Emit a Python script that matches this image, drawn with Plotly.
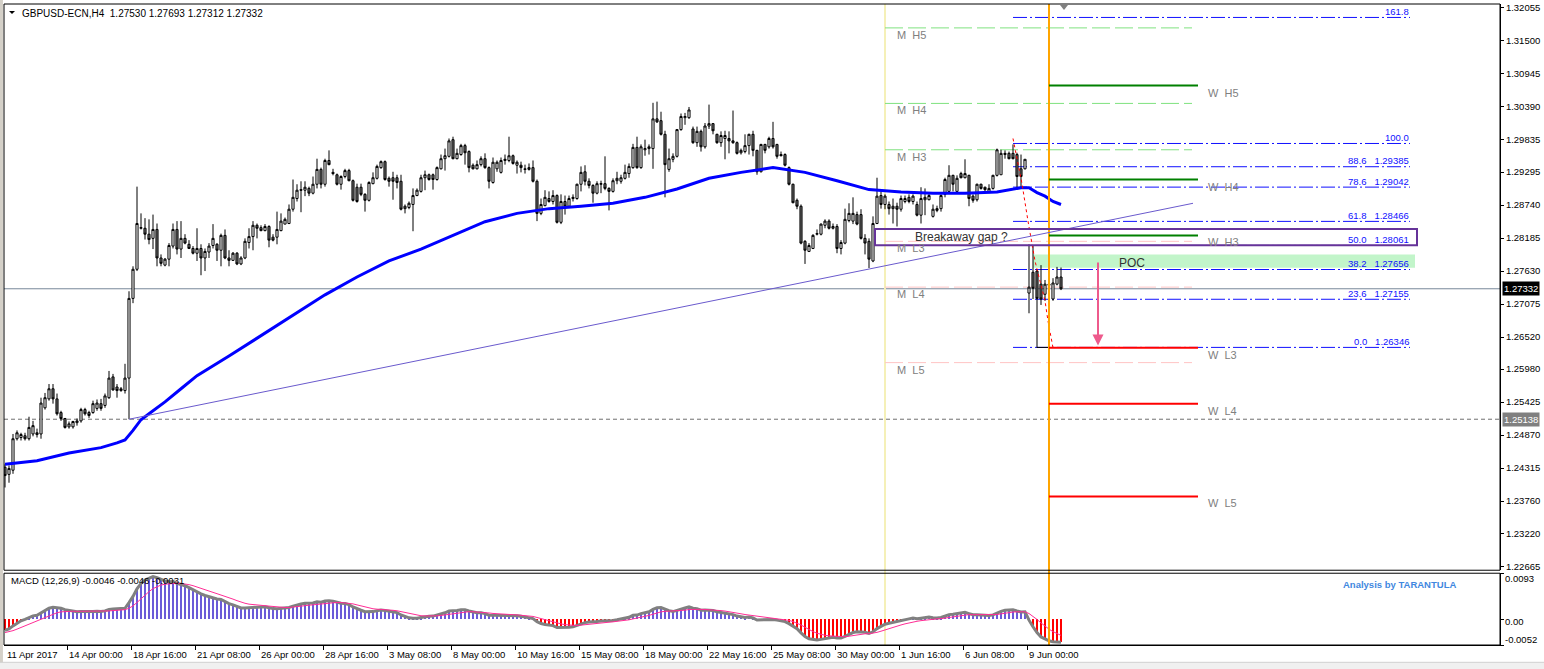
import numpy as np
import plotly.graph_objects as go

# ---------------- DATA ----------------
OPEN = [1.2433,1.2421,1.2428,1.2481,1.2483,1.2486,1.2481,1.2489,1.2491,1.2489,
        1.2533,1.2548,1.2565,1.2548,1.2525,1.2515,1.2501,1.2501,1.2508,1.2511,
        1.2530,1.2525,1.2525,1.2532,1.2540,1.2537,1.2550,1.2585,1.2568,1.2562,
        1.2562,1.2583,1.2717,1.2766,1.2835,1.2835,1.2825,1.2818,1.2833,1.2785,
        1.2773,1.2783,1.2805,1.2833,1.2800,1.2818,1.2808,1.2801,1.2793,1.2801,
        1.2785,1.2795,1.2806,1.2808,1.2798,1.2823,1.2785,1.2781,1.2793,1.2775,
        1.2785,1.2811,1.2821,1.2840,1.2836,1.2831,1.2838,1.2820,1.2820,1.2831,
        1.2842,1.2843,1.2867,1.2885,1.2900,1.2899,1.2902,1.2894,1.2909,1.2934,
        1.2909,1.2949,1.2929,1.2925,1.2909,1.2922,1.2932,1.2915,1.2904,1.2904,
        1.2892,1.2882,1.2910,1.2919,1.2937,1.2947,1.2919,1.2920,1.2920,1.2914,
        1.2868,1.2870,1.2875,1.2890,1.2897,1.2920,1.2925,1.2925,1.2917,1.2935,
        1.2952,1.2956,1.2984,1.2952,1.2959,1.2974,1.2964,1.2941,1.2935,1.2942,
        1.2952,1.2937,1.2912,1.2935,1.2929,1.2949,1.2949,1.2957,1.2941,1.2941,
        1.2935,1.2934,1.2937,1.2914,1.2860,1.2873,1.2885,1.2880,1.2890,1.2845,
        1.2880,1.2872,1.2885,1.2885,1.2909,1.2930,1.2914,1.2907,1.2894,1.2909,
        1.2910,1.2902,1.2897,1.2915,1.2914,1.2919,1.2927,1.2937,1.2971,1.2937,
        1.2967,1.2969,1.2969,1.3019,1.3016,1.2993,1.2934,1.2951,1.2956,1.3001,
        1.3021,1.3021,1.3002,1.2979,1.2998,1.2972,1.3007,1.3011,1.2993,1.2979,
        1.2986,1.2986,1.2982,1.2979,1.2962,1.2964,1.2974,1.2993,1.2966,1.2930,
        1.2976,1.2972,1.2986,1.2976,1.2959,1.2959,1.2937,1.2909,1.2882,1.2872,
        1.2813,1.2796,1.2801,1.2825,1.2825,1.2840,1.2847,1.2835,1.2838,1.2801,
        1.2810,1.2848,1.2847,1.2858,1.2858,1.2818,1.2813,1.2780,1.2843,1.2890,
        1.2875,1.2875,1.2868,1.2872,1.2867,1.2880,1.2887,1.2880,1.2875,1.2857,
        1.2883,1.2883,1.2855,1.2865,1.2868,1.2892,1.2897,1.2924,1.2897,1.2927,
        1.2920,1.2924,1.2889,1.2883,1.2909,1.2904,1.2897,1.2902,1.2924,1.2925,
        1.2959,1.2961,1.2961,1.2959,1.2935,1.2935,1.2726,1.2761,1.2763,1.2741,
        1.2724,1.2739,1.2716,1.2741,1.2753]
HIGH = [1.2438,1.2436,1.2489,1.2495,1.2491,1.2491,1.2518,1.2511,1.2498,1.2550,
        1.2558,1.2573,1.2573,1.2557,1.2528,1.2516,1.2510,1.2511,1.2515,1.2533,
        1.2533,1.2528,1.2545,1.2547,1.2548,1.2557,1.2595,1.2590,1.2573,1.2568,
        1.2607,1.2729,1.2771,1.2905,1.2860,1.2852,1.2850,1.2858,1.2843,1.2791,
        1.2785,1.2810,1.2843,1.2847,1.2847,1.2825,1.2815,1.2805,1.2835,1.2808,
        1.2801,1.2810,1.2842,1.2810,1.2826,1.2833,1.2798,1.2795,1.2795,1.2788,
        1.2818,1.2835,1.2847,1.2843,1.2840,1.2842,1.2840,1.2825,1.2863,1.2860,
        1.2853,1.2875,1.2917,1.2909,1.2914,1.2914,1.2905,1.2922,1.2952,1.2937,
        1.2952,1.2966,1.2935,1.2927,1.2924,1.2935,1.2935,1.2917,1.2910,1.2910,
        1.2894,1.2914,1.2929,1.2942,1.2949,1.2949,1.2922,1.2930,1.2925,1.2925,
        1.2875,1.2880,1.2902,1.2902,1.2925,1.2932,1.2927,1.2927,1.2939,1.2959,
        1.2969,1.2986,1.2989,1.2969,1.2977,1.2977,1.2966,1.2944,1.2949,1.2956,
        1.2961,1.2939,1.2954,1.2949,1.2954,1.2959,1.2989,1.2959,1.2949,1.2947,
        1.2942,1.2944,1.2949,1.2917,1.2885,1.2899,1.2897,1.2899,1.2892,1.2892,
        1.2890,1.2890,1.2892,1.2910,1.2939,1.2941,1.2919,1.2909,1.2914,1.2915,
        1.2956,1.2904,1.2919,1.2930,1.2925,1.2942,1.2944,1.2977,1.2989,1.2976,
        1.2984,1.2976,1.3046,1.3048,1.3031,1.2999,1.2969,1.2961,1.3002,1.3028,
        1.3029,1.3039,1.3006,1.3006,1.3001,1.3012,1.3043,1.3012,1.2994,1.2998,
        1.2999,1.2998,1.3033,1.2981,1.2969,1.2993,1.2994,1.2999,1.2967,1.2977,
        1.2977,1.2989,1.3014,1.2977,1.2964,1.2961,1.2939,1.2910,1.2885,1.2875,
        1.2815,1.2810,1.2825,1.2833,1.2843,1.2850,1.2850,1.2843,1.2842,1.2815,
        1.2868,1.2877,1.2887,1.2863,1.2867,1.2825,1.2818,1.2855,1.2920,1.2897,
        1.2892,1.2880,1.2885,1.2878,1.2890,1.2890,1.2892,1.2892,1.2880,1.2904,
        1.2902,1.2894,1.2875,1.2873,1.2892,1.2920,1.2941,1.2925,1.2924,1.2930,
        1.2951,1.2925,1.2892,1.2910,1.2910,1.2905,1.2909,1.2925,1.2969,1.2967,
        1.2966,1.2964,1.2976,1.2962,1.2959,1.2951,1.2808,1.2806,1.2766,1.2773,
        1.2748,1.2749,1.2751,1.2770,1.2769]
LOW = [1.2399,1.2407,1.2422,1.2478,1.2478,1.2478,1.2478,1.2485,1.2483,1.2481,
       1.2530,1.2545,1.2540,1.2520,1.2511,1.2498,1.2498,1.2498,1.2503,1.2508,
       1.2520,1.2516,1.2523,1.2528,1.2528,1.2533,1.2548,1.2562,1.2550,1.2560,
       1.2557,1.25138,1.2709,1.2763,1.2833,1.2816,1.2808,1.2800,1.2771,1.2771,
       1.2771,1.2771,1.2801,1.2791,1.2785,1.2808,1.2800,1.2791,1.2780,1.2756,
       1.2763,1.2785,1.2801,1.2780,1.2771,1.2783,1.2771,1.2780,1.2773,1.2773,
       1.2783,1.2801,1.2798,1.2818,1.2830,1.2830,1.2803,1.2813,1.2808,1.2830,
       1.2842,1.2842,1.2863,1.2880,1.2862,1.2889,1.2889,1.2892,1.2902,1.2902,
       1.2905,1.2941,1.2924,1.2907,1.2900,1.2919,1.2914,1.2880,1.2878,1.2889,
       1.2863,1.2880,1.2909,1.2917,1.2935,1.2915,1.2905,1.2883,1.2902,1.2865,
       1.2860,1.2867,1.2830,1.2889,1.2895,1.2899,1.2915,1.2900,1.2915,1.2934,
       1.2932,1.2954,1.2951,1.2951,1.2957,1.2942,1.2929,1.2934,1.2934,1.2939,
       1.2935,1.2902,1.2910,1.2930,1.2927,1.2942,1.2946,1.2942,1.2927,1.2929,
       1.2927,1.2932,1.2912,1.2847,1.2857,1.2872,1.2878,1.2875,1.2843,1.2842,
       1.2858,1.2870,1.2880,1.2883,1.2897,1.2907,1.2902,1.2878,1.2892,1.2894,
       1.2899,1.2865,1.2895,1.2909,1.2910,1.2917,1.2920,1.2935,1.2935,1.2935,
       1.2957,1.2959,1.2935,1.3012,1.2991,1.2887,1.2930,1.2946,1.2954,1.2999,
       1.3009,1.3019,1.2977,1.2972,1.2964,1.2969,1.3002,1.2993,1.2977,1.2972,
       1.2951,1.2961,1.2977,1.2959,1.2959,1.2961,1.2959,1.2956,1.2925,1.2929,
       1.2961,1.2969,1.2969,1.2952,1.2956,1.2939,1.2907,1.2877,1.2867,1.2808,
       1.2775,1.2795,1.2800,1.2823,1.2823,1.2835,1.2833,1.2833,1.2793,1.2791,
       1.2808,1.2845,1.2842,1.2840,1.2816,1.2791,1.2768,1.2778,1.2842,1.2868,
       1.2867,1.2858,1.2843,1.2838,1.2863,1.2877,1.2877,1.2875,1.2855,1.2843,
       1.2857,1.2882,1.2853,1.2862,1.2863,1.2887,1.2895,1.2897,1.2895,1.2919,
       1.2919,1.2872,1.2878,1.2880,1.2900,1.2895,1.2894,1.2900,1.2922,1.2925,
       1.2952,1.2951,1.2951,1.2902,1.2902,1.2934,1.2692,1.2716,1.2634,1.2706,
       1.2713,1.2721,1.2713,1.2739,1.2731]
CLOSE = [1.2419,1.2431,1.2481,1.2491,1.2488,1.2481,1.2500,1.2503,1.2488,1.2541,
         1.2550,1.2565,1.2548,1.2523,1.2515,1.2500,1.2506,1.2510,1.2511,1.2530,
         1.2523,1.2520,1.2540,1.2541,1.2532,1.2553,1.2583,1.2563,1.2562,1.2565,
         1.2583,1.2717,1.2766,1.2843,1.2836,1.2825,1.2816,1.2833,1.2785,1.2776,
         1.2783,1.2806,1.2833,1.2800,1.2818,1.2810,1.2801,1.2793,1.2801,1.2785,
         1.2796,1.2805,1.2818,1.2798,1.2823,1.2785,1.2781,1.2793,1.2775,1.2785,
         1.2813,1.2821,1.2840,1.2835,1.2831,1.2838,1.2815,1.2815,1.2833,1.2847,
         1.2850,1.2867,1.2887,1.2899,1.2899,1.2904,1.2894,1.2909,1.2934,1.2909,
         1.2949,1.2942,1.2927,1.2909,1.2922,1.2932,1.2915,1.2882,1.2880,1.2892,
         1.2882,1.2912,1.2920,1.2939,1.2947,1.2917,1.2914,1.2914,1.2912,1.2867,
         1.2872,1.2877,1.2890,1.2899,1.2920,1.2925,1.2917,1.2917,1.2937,1.2952,
         1.2957,1.2982,1.2952,1.2961,1.2974,1.2962,1.2937,1.2935,1.2942,1.2952,
         1.2937,1.2914,1.2946,1.2946,1.2949,1.2951,1.2957,1.2944,1.2946,1.2937,
         1.2934,1.2937,1.2914,1.2860,1.2875,1.2887,1.2880,1.2890,1.2845,1.2880,
         1.2872,1.2885,1.2887,1.2909,1.2929,1.2914,1.2907,1.2894,1.2910,1.2910,
         1.2902,1.2897,1.2915,1.2919,1.2920,1.2929,1.2939,1.2971,1.2937,1.2972,
         1.2969,1.2972,1.3019,1.3014,1.2993,1.2942,1.2952,1.2956,1.3001,1.3023,
         1.3023,1.3034,1.2979,1.2998,1.2972,1.3007,1.3011,1.2999,1.2979,1.2991,
         1.2991,1.2982,1.2979,1.2961,1.2966,1.2974,1.2993,1.2966,1.2930,1.2976,
         1.2966,1.2986,1.2972,1.2956,1.2957,1.2941,1.2909,1.2878,1.2872,1.2810,
         1.2798,1.2806,1.2823,1.2826,1.2842,1.2847,1.2835,1.2838,1.2801,1.2811,
         1.2850,1.2860,1.2860,1.2842,1.2818,1.2810,1.2783,1.2843,1.2889,1.2875,
         1.2889,1.2868,1.2872,1.2867,1.2885,1.2885,1.2880,1.2889,1.2857,1.2885,
         1.2887,1.2890,1.2867,1.2868,1.2890,1.2917,1.2924,1.2909,1.2919,1.2920,
         1.2927,1.2885,1.2882,1.2909,1.2902,1.2900,1.2902,1.2924,1.2967,1.2961,
         1.2961,1.2952,1.2952,1.2922,1.2922,1.2951,1.2736,1.2734,1.2717,1.2716,
         1.2741,1.2741,1.2743,1.2753,1.27332]
BARS = list(range(len(CLOSE)))

# moving average (blue) read at these bars
MA_BARS = [0, 8, 16, 20, 24, 28, 30, 32, 34, 36, 40, 44, 48, 56, 64, 72, 80, 88, 96,
           104, 112, 120, 128, 136, 144, 152, 160, 168, 176, 184, 192, 200, 208, 216,
           224, 232, 240, 248, 254, 256, 258, 260, 262, 264]
MA_VALUES = [1.2438, 1.2444, 1.2457, 1.2461, 1.2466, 1.2474, 1.2479, 1.2495, 1.2513,
             1.2523, 1.2543, 1.2565, 1.2587, 1.2620, 1.2654, 1.2689, 1.2723, 1.2753,
             1.2780, 1.2800, 1.2823, 1.2846, 1.2860, 1.2868, 1.2872, 1.2877, 1.2887,
             1.2901, 1.2919, 1.2929, 1.2937, 1.2929, 1.2915, 1.2900, 1.2896, 1.2894,
             1.2894, 1.2896, 1.2903, 1.2903, 1.2895, 1.2889, 1.2880, 1.2875]

# MACD state at the first visible bar
MACD_START = -0.0024
SIGNAL_START = -0.0028

PRICE_TICKS = [1.32055, 1.31500, 1.30945, 1.30390, 1.29835, 1.29295, 1.28740, 1.28185,
               1.27630, 1.27075, 1.26520, 1.25980, 1.25425, 1.24870, 1.24315, 1.23760,
               1.23220, 1.22665]
PRICE_TICK_TEXT = ["1.32055", "1.31500", "1.30945", "1.30390", "1.29835", "1.29295",
                   "1.28740", "1.28185", "1.27630", "1.27075", "1.26520", "1.25980",
                   "1.25425", "1.24870", "1.24315", "1.23760", "1.23220", "1.22665"]
MACD_TICKS = [0.0093, 0.0, -0.0052]
MACD_TICK_TEXT = ["0.0093", "0.00", "-0.0052"]

DATE_LABELS = ["11 Apr 2017", "14 Apr 00:00", "18 Apr 16:00", "21 Apr 08:00",
               "26 Apr 00:00", "28 Apr 16:00", "3 May 08:00", "8 May 00:00",
               "10 May 16:00", "15 May 08:00", "18 May 00:00", "22 May 16:00",
               "25 May 08:00", "30 May 00:00", "1 Jun 16:00", "6 Jun 08:00",
               "9 Jun 00:00"]
DATE_LABEL_BARS = [0, 16, 32, 48, 64, 80, 96, 112, 128, 144, 160, 176, 192, 208, 224, 240, 256]

HEADER = "GBPUSD-ECN,H4  1.27530 1.27693 1.27312 1.27332"
MACD_HEADER = "MACD (12,26,9) -0.0046 -0.0046 -0.0031"

BID_PRICE = 1.27332
LEVEL_PRICE = 1.25138

MONTH_START_BAR = 220
MONTH_END_BAR = 296.75
MONTH_NAMES = ["M  H5", "M  H4", "M  H3", "M  L3", "M  L4", "M  L5"]
MONTH_LEVELS = [1.3172, 1.3045, 1.2967, 1.2813, 1.2736, 1.2609]

WEEK_START_BAR = 261
WEEK_END_BAR = 298.25
WEEK_NAMES = ["W  H5", "W  H4", "W  H3", "W  L3", "W  L4", "W  L5"]
WEEK_LEVELS = [1.3075, 1.2917, 1.2823, 1.2634, 1.2540, 1.2384]

FIB_START_BAR = 252
FIB_END_BAR = 351.25
FIB_LOW = 1.26346
FIB_HIGH = 1.29776
FIB_RATIOS = [0.0, 0.236, 0.382, 0.5, 0.618, 0.786, 0.886, 1.0, 1.618]
FIB_TEXT = ["0.0   1.26346", "23.6   1.27155", "38.2   1.27656", "50.0   1.28061",
            "61.8   1.28466", "78.6   1.29042", "88.6   1.29385", "100.0", "161.8"]
FIB_ANCHOR_BARS = [258, 261]   # short solid black segment at the 0.0 anchor

TREND_BARS = [31, 297]
TREND_PRICES = [1.25138, 1.2877]

GAP_BOX_BARS = [217.5, 353]
GAP_BOX_PRICES = [1.28065, 1.28338]
GAP_TEXT = "Breakaway gap ?"
GAP_TEXT_AT = (227, 1.2820)

POC_BARS = [257, 352.5]
POC_PRICES = [1.27684, 1.27909]
POC_TEXT_AT = (278, 1.2777)

ARROW_BAR = 273.25
ARROW_FROM = 1.2780
ARROW_TO = 1.2638

ZIGZAG_BARS = [252, 254.25, 255.75, 256.75, 257.5, 258.75, 260, 260.75, 261.75, 262]
ZIGZAG_PRICES = [1.2986, 1.2910, 1.2847, 1.2808, 1.2780, 1.2746, 1.2713, 1.2679, 1.2646, 1.2634]

# ---------------- STYLE ----------------
FONT = "Liberation Sans, Arial, sans-serif"
X_RANGE = [-0.25, 373.75]
Y_RANGE = [1.22598, 1.32122]
MACD_RANGE = [-0.0052, 0.0093]
MAIN_DOMAIN = [0.11664, 1.0]
MACD_DOMAIN = [0.0, 0.11198]

# ---------------- MACD (12,26,9) from closes ----------------
def ema(values, n, seed):
    a = 2.0 / (n + 1)
    e = seed
    out = []
    for v in values:
        e = e + a * (v - e)
        out.append(e)
    return np.array(out)

ema12 = ema(CLOSE, 12, CLOSE[0])
ema26 = ema(CLOSE, 26, CLOSE[0] - MACD_START)
macd = ema12 - ema26
signal = ema(macd, 9, SIGNAL_START)
hist_colors = ["#6B5BD8" if v >= 0 else "#FF0000" for v in macd]

fig = go.Figure()

fig.add_trace(go.Candlestick(
    x=BARS, open=OPEN, high=HIGH, low=LOW, close=CLOSE,
    increasing=dict(line=dict(color="black", width=1), fillcolor="white"),
    decreasing=dict(line=dict(color="black", width=1), fillcolor="#6a6a6a"),
    whiskerwidth=0, xaxis="x", yaxis="y", hoverinfo="skip", showlegend=False))

fig.add_trace(go.Scatter(x=MA_BARS, y=MA_VALUES, mode="lines",
                         line=dict(color="#0000FF", width=3),
                         xaxis="x", yaxis="y", hoverinfo="skip", showlegend=False))

fig.add_trace(go.Bar(x=BARS, y=macd, width=0.3,
                     marker=dict(color=hist_colors, line=dict(width=0)),
                     xaxis="x2", yaxis="y2", hoverinfo="skip", showlegend=False))
fig.add_trace(go.Scatter(x=BARS, y=macd, mode="lines",
                         line=dict(color="#808080", width=3),
                         xaxis="x2", yaxis="y2", hoverinfo="skip", showlegend=False))
fig.add_trace(go.Scatter(x=BARS, y=signal, mode="lines",
                         line=dict(color="#FF2D95", width=1),
                         xaxis="x2", yaxis="y2", hoverinfo="skip", showlegend=False))

# red dotted path
fig.add_trace(go.Scatter(x=ZIGZAG_BARS, y=ZIGZAG_PRICES, mode="lines",
                         line=dict(color="#FF0000", width=1, dash="dot"),
                         xaxis="x", yaxis="y", hoverinfo="skip", showlegend=False))

shapes = []
annotations = []

def seg(x0, x1, y, color, width=1, dash="solid", layer="below"):
    shapes.append(dict(type="line", xref="x", yref="y", x0=x0, x1=x1, y0=y, y1=y,
                       line=dict(color=color, width=width, dash=dash), layer=layer))

# full-width bid line and level line
shapes.append(dict(type="line", xref="paper", yref="y", x0=0, x1=1, y0=BID_PRICE, y1=BID_PRICE,
                   line=dict(color="#778899", width=1), layer="below"))
shapes.append(dict(type="line", xref="paper", yref="y", x0=0, x1=1, y0=LEVEL_PRICE, y1=LEVEL_PRICE,
                   line=dict(color="#707070", width=1, dash="4px,3px"), layer="below"))

# month / week vertical separators
shapes.append(dict(type="line", xref="x", yref="paper", x0=MONTH_START_BAR, x1=MONTH_START_BAR,
                   y0=0, y1=1, line=dict(color="#F5F0B8", width=2), layer="below"))
shapes.append(dict(type="line", xref="x", yref="paper", x0=WEEK_START_BAR, x1=WEEK_START_BAR,
                   y0=0, y1=1, line=dict(color="#FFA500", width=2), layer="above"))

# POC zone
shapes.append(dict(type="rect", xref="x", yref="y", x0=POC_BARS[0], x1=POC_BARS[1],
                   y0=POC_PRICES[0], y1=POC_PRICES[1], fillcolor="#C2F5CA",
                   line=dict(width=0), layer="below"))

# monthly pivots
for name, lvl in zip(MONTH_NAMES, MONTH_LEVELS):
    col = "#7FE27F" if "H" in name else "#FFC4C4"
    seg(MONTH_START_BAR, MONTH_END_BAR, lvl, col, 1, "18px,5px")
    annotations.append(dict(x=MONTH_START_BAR + 2.5, y=lvl, xref="x", yref="y",
                            text=name.replace(" ", "\u00a0"), showarrow=False,
                            xanchor="left", yanchor="middle", yshift=-7,
                            font=dict(family=FONT, size=11, color="#808080")))

# fibonacci
for r, txt in zip(FIB_RATIOS, FIB_TEXT):
    lvl = FIB_LOW + r * (FIB_HIGH - FIB_LOW)
    seg(FIB_START_BAR, FIB_END_BAR, lvl, "#1010FF", 1, "14px,3px,2px,3px")
    annotations.append(dict(x=FIB_END_BAR + 0.2, y=lvl, xref="x", yref="y",
                            text=txt.replace(" ", "\u00a0"), showarrow=False,
                            xanchor="right", yanchor="middle", yshift=6,
                            font=dict(family=FONT, size=9.5, color="#1010FF")))
seg(FIB_ANCHOR_BARS[0], FIB_ANCHOR_BARS[1], FIB_LOW, "black", 1, "solid", "below")

# weekly pivots
for name, lvl in zip(WEEK_NAMES, WEEK_LEVELS):
    col = "#008000" if "H" in name else "#FF0000"
    seg(WEEK_START_BAR, WEEK_END_BAR, lvl, col, 2, "solid", "above")
    annotations.append(dict(x=WEEK_END_BAR + 2, y=lvl, xref="x", yref="y",
                            text=name.replace(" ", "\u00a0"), showarrow=False,
                            xanchor="left", yanchor="middle", yshift=-7,
                            font=dict(family=FONT, size=11, color="#808080")))

# trendline
shapes.append(dict(type="line", xref="x", yref="y", x0=TREND_BARS[0], x1=TREND_BARS[1],
                   y0=TREND_PRICES[0], y1=TREND_PRICES[1],
                   line=dict(color="#6A5ACD", width=1), layer="above"))

# breakaway gap box
shapes.append(dict(type="rect", xref="x", yref="y", x0=GAP_BOX_BARS[0], x1=GAP_BOX_BARS[1],
                   y0=GAP_BOX_PRICES[0], y1=GAP_BOX_PRICES[1], fillcolor="rgba(0,0,0,0)",
                   line=dict(color="#663399", width=2), layer="above"))
annotations.append(dict(x=GAP_TEXT_AT[0], y=GAP_TEXT_AT[1], xref="x", yref="y", text=GAP_TEXT,
                        showarrow=False, xanchor="left", yanchor="middle",
                        font=dict(family=FONT, size=12, color="#333333")))
annotations.append(dict(x=POC_TEXT_AT[0], y=POC_TEXT_AT[1], xref="x", yref="y", text="POC",
                        showarrow=False, xanchor="left", yanchor="middle",
                        font=dict(family=FONT, size=12, color="#333333")))

# pink arrow
annotations.append(dict(x=ARROW_BAR, y=ARROW_TO, xref="x", yref="y",
                        ax=ARROW_BAR, ay=ARROW_FROM, axref="x", ayref="y",
                        showarrow=True, arrowhead=2, arrowsize=1.1, arrowwidth=2,
                        arrowcolor="#EE5A8C", text=""))

# frames
shapes.append(dict(type="rect", xref="paper", yref="paper", x0=0, x1=1,
                   y0=MAIN_DOMAIN[0], y1=MAIN_DOMAIN[1], line=dict(color="black", width=1),
                   fillcolor="rgba(0,0,0,0)", layer="above"))
shapes.append(dict(type="rect", xref="paper", yref="paper", x0=0, x1=1,
                   y0=MACD_DOMAIN[0], y1=MACD_DOMAIN[1], line=dict(color="black", width=1),
                   fillcolor="rgba(0,0,0,0)", layer="above"))
# window chrome
shapes.append(dict(type="rect", xref="paper", yref="paper", x0=-0.0027, x1=-0.0007,
                   y0=-0.04, y1=1.01, fillcolor="#D4D0C8", line=dict(width=0)))
shapes.append(dict(type="rect", xref="paper", yref="paper", x0=-0.01, x1=1.04,
                   y0=-0.04, y1=-0.0270, fillcolor="#F0F0F0", line=dict(color="#D0D0D0", width=1)))
# header triangle and chart-shift marker
shapes.append(dict(type="path", xref="paper", yref="paper",
                   path="M 0.00334 0.98911 L 0.00735 0.98911 L 0.00535 0.98445 Z",
                   fillcolor="black", line=dict(width=0)))
shapes.append(dict(type="path", xref="paper", yref="paper",
                   path="M 0.70588 0.99844 L 0.71123 0.99844 L 0.70856 0.99067 Z",
                   fillcolor="#808080", line=dict(width=0)))

# texts
annotations.append(dict(x=0.0107, y=0.98445, xref="paper", yref="paper", text=HEADER.replace("  ", "\u00a0\u00a0"),
                        showarrow=False, xanchor="left", yanchor="middle",
                        font=dict(family=FONT, size=10, color="black")))
annotations.append(dict(x=0.0033, y=0.1011, xref="paper", yref="paper", text=MACD_HEADER,
                        showarrow=False, xanchor="left", yanchor="middle",
                        font=dict(family=FONT, size=9.5, color="black")))
annotations.append(dict(x=0.8937, y=0.0949, xref="paper", yref="paper",
                        text="<b>Analysis by TARANTULA</b>", showarrow=False,
                        xanchor="left", yanchor="middle",
                        font=dict(family=FONT, size=9.5, color="#3F88E0")))

for lbl, b in zip(DATE_LABELS, DATE_LABEL_BARS):
    annotations.append(dict(x=max(b - 0.5, 0), y=-0.0156, xref="x", yref="paper", text=lbl,
                            showarrow=False, xanchor="left", yanchor="middle",
                            font=dict(family=FONT, size=9.5, color="black")))

for v, t, dy in zip(MACD_TICKS, MACD_TICK_TEXT, [-5, -2, 6]):
    annotations.append(dict(x=1, y=v, xref="paper", yref="y2", text=t, showarrow=False,
                            xanchor="left", yanchor="middle", xshift=3, yshift=dy,
                            font=dict(family=FONT, size=9.5, color="black")))

annotations.append(dict(x=1, y=BID_PRICE, xref="paper", yref="y", text=f"{BID_PRICE:.5f}",
                        showarrow=False, xanchor="left", yanchor="middle", xshift=2,
                        bgcolor="black", borderpad=1,
                        font=dict(family=FONT, size=9.5, color="white")))
annotations.append(dict(x=1, y=LEVEL_PRICE, xref="paper", yref="y", text=f"{LEVEL_PRICE:.5f}",
                        showarrow=False, xanchor="left", yanchor="middle", xshift=2,
                        bgcolor="#808080", borderpad=1,
                        font=dict(family=FONT, size=9.5, color="white")))

fig.update_layout(
    width=1544, height=669,
    margin=dict(l=4, r=44, t=2, b=24),
    paper_bgcolor="white", plot_bgcolor="white",
    showlegend=False, bargap=0, boxgap=0.25,
    font=dict(family=FONT, size=9.5, color="black"),
    xaxis=dict(domain=[0, 1], range=X_RANGE, anchor="y", showticklabels=False,
               showgrid=False, zeroline=False, ticks="", rangeslider=dict(visible=False),
               fixedrange=True),
    yaxis=dict(domain=MAIN_DOMAIN, range=Y_RANGE, side="right", anchor="x",
               tickvals=PRICE_TICKS, ticktext=PRICE_TICK_TEXT, ticks="outside",
               ticklen=3, tickcolor="black", showline=True, linecolor="black",
               showgrid=False, zeroline=False, tickfont=dict(family=FONT, size=9.5, color="black"),
               fixedrange=True),
    xaxis2=dict(domain=[0, 1], range=X_RANGE, anchor="y2", matches="x",
                tickvals=[b - 0.5 for b in DATE_LABEL_BARS], ticks="outside", ticklen=4,
                tickcolor="black", showticklabels=False, showline=True, linecolor="black",
                showgrid=False, zeroline=False, fixedrange=True),
    yaxis2=dict(domain=MACD_DOMAIN, range=MACD_RANGE, side="right", anchor="x2",
                tickvals=MACD_TICKS, ticks="outside", ticklen=3, tickcolor="black",
                showticklabels=False, showline=True, linecolor="black",
                showgrid=False, zeroline=False, fixedrange=True),
    shapes=shapes, annotations=annotations,
)

fig.write_html("out.html", config={"displayModeBar": False},
               post_script="document.body.style.margin='0px';document.body.style.overflow='hidden';")
